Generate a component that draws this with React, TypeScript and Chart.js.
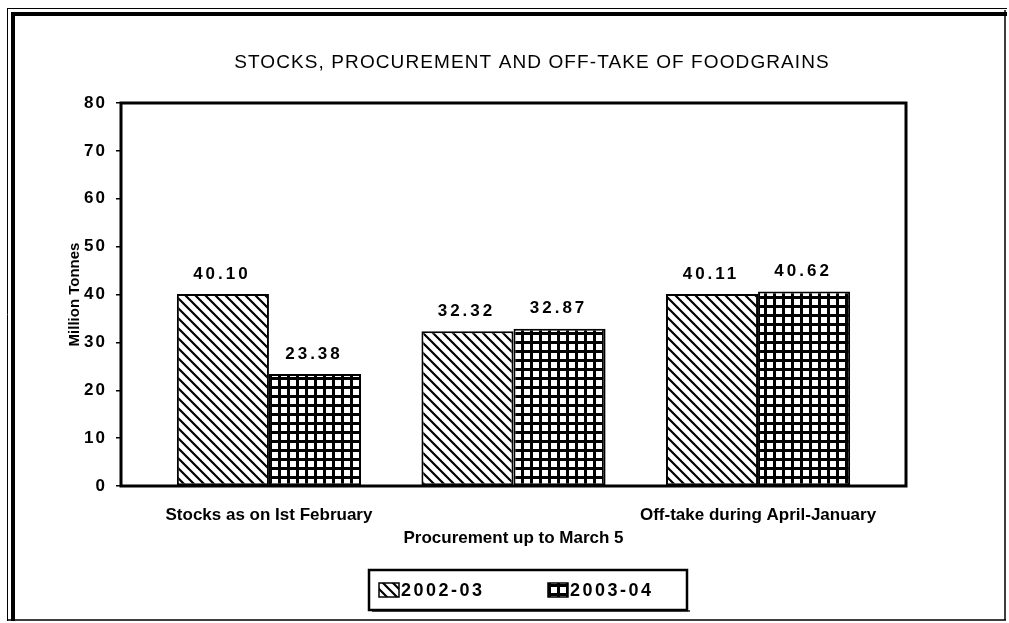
import React, { useEffect, useRef } from 'react';
import { Chart, registerables } from 'chart.js';

Chart.register(...registerables);

const categories = ['Stocks as on Ist February', 'Procurement up to March 5', 'Off-take during April-January'];
const seriesLabels = ['2002-03', '2003-04'];
const values2002 = [40.1, 32.32, 40.11];
const values2003 = [23.38, 32.87, 40.62];
const yMin = 0;
const yMax = 80;
const yStep = 10;
const titleText = 'STOCKS, PROCUREMENT AND OFF-TAKE OF FOODGRAINS';
const yTitle = 'Million Tonnes';

const FAMILY = "'Liberation Sans', Arial, Helvetica, sans-serif";

function makeDiagonal(): CanvasPattern {
  const c = document.createElement('canvas');
  c.width = 10;
  c.height = 10;
  const g = c.getContext('2d')!;
  g.fillStyle = '#fff';
  g.fillRect(0, 0, 10, 10);
  g.strokeStyle = '#000';
  g.lineWidth = 2.2;
  g.beginPath();
  g.moveTo(-5, -5); g.lineTo(15, 15);
  g.moveTo(-5, 5); g.lineTo(5, 15);
  g.moveTo(5, -5); g.lineTo(15, 5);
  g.stroke();
  return g.createPattern(c, 'repeat')!;
}

function makeGrid(): CanvasPattern {
  const c = document.createElement('canvas');
  c.width = 9;
  c.height = 9;
  const g = c.getContext('2d')!;
  g.fillStyle = '#000';
  g.fillRect(0, 0, 9, 9);
  g.fillStyle = '#fff';
  g.fillRect(2, 2, 6, 6);
  return g.createPattern(c, 'repeat')!;
}

export default function App() {
  const ref = useRef<HTMLCanvasElement | null>(null);

  useEffect(() => {
    if (!ref.current) return;
    const diag = makeDiagonal();
    const grid = makeGrid();
    const patterns = [diag, grid];

    const decor = {
      id: 'decor',
      beforeDraw(chart: any) {
        const ctx = chart.ctx as CanvasRenderingContext2D;
        ctx.save();
        ctx.fillStyle = '#fff';
        ctx.fillRect(0, 0, chart.width, chart.height);
        ctx.strokeStyle = '#000';
        ctx.lineWidth = 1;
        ctx.beginPath();
        ctx.moveTo(7, 8.5); ctx.lineTo(1007, 8.5);
        ctx.moveTo(7.5, 8); ctx.lineTo(7.5, 621);
        ctx.stroke();
        ctx.lineWidth = 4;
        ctx.beginPath();
        ctx.moveTo(11, 14); ctx.lineTo(1007, 14);
        ctx.moveTo(13, 12); ctx.lineTo(13, 621);
        ctx.stroke();
        ctx.lineWidth = 1.5;
        ctx.beginPath();
        ctx.moveTo(1005, 10); ctx.lineTo(1005, 620);
        ctx.moveTo(7, 620); ctx.lineTo(1006, 620);
        ctx.stroke();
        ctx.restore();
      },
      afterDatasetsDraw(chart: any) {
        const ctx = chart.ctx as CanvasRenderingContext2D;
        ctx.save();
        ctx.fillStyle = '#000';
        ctx.font = `bold 17px ${FAMILY}`;
        (ctx as any).letterSpacing = '3px';
        ctx.textAlign = 'center';
        ctx.textBaseline = 'middle';
        chart.data.datasets.forEach((ds: any, di: number) => {
          const meta = chart.getDatasetMeta(di);
          meta.data.forEach((el: any, i: number) => {
            const v = ds.data[i].y as number;
            ctx.fillText(v.toFixed(2), el.x - 1, el.y - 20);
          });
        });
        ctx.restore();
        (ctx as any).letterSpacing = '2px';
      },
      afterDraw(chart: any) {
        const ctx = chart.ctx as CanvasRenderingContext2D;
        (ctx as any).letterSpacing = '0px';
        const a = chart.chartArea;
        ctx.save();
        ctx.strokeStyle = '#000';
        ctx.lineWidth = 3;
        ctx.strokeRect(a.left, a.top, a.right - a.left, a.bottom - a.top);
        ctx.fillStyle = '#000';
        ctx.font = `normal 19px ${FAMILY}`;
        (ctx as any).letterSpacing = '1.1px';
        ctx.textAlign = 'center';
        ctx.textBaseline = 'middle';
        ctx.fillText(titleText, 532, 63);
        (ctx as any).letterSpacing = '0px';
        ctx.fillStyle = '#555';
        ctx.fillRect(372, 610, 318, 2);
        ctx.lineWidth = 2.5;
        ctx.strokeStyle = '#000';
        ctx.strokeRect(369, 570, 318, 40);
        const itemX = [379, 548];
        chart.data.datasets.forEach((ds: any, di: number) => {
          const x = itemX[di];
          ctx.fillStyle = ds.backgroundColor;
          ctx.fillRect(x, 583, 20, 14);
          ctx.lineWidth = 1.5;
          ctx.strokeStyle = '#000';
          ctx.strokeRect(x, 583, 20, 14);
          ctx.fillStyle = '#000';
          ctx.font = `bold 18px ${FAMILY}`;
          (ctx as any).letterSpacing = '2.5px';
          ctx.textAlign = 'left';
          ctx.textBaseline = 'middle';
          ctx.fillText(ds.label, x + 22, 591);
          (ctx as any).letterSpacing = '0px';
        });
        ctx.restore();
      },
    };

    const chart = new Chart(ref.current, {
      type: 'bar',
      data: {
        datasets: [
          {
            label: seriesLabels[0],
            data: values2002.map((v, i) => ({ x: i, y: v })),
            backgroundColor: patterns[0] as any,
            borderColor: '#000',
            borderWidth: 2,
            borderSkipped: false,
            barPercentage: 1,
            categoryPercentage: 0.753,
          },
          {
            label: seriesLabels[1],
            data: values2003.map((v, i) => ({ x: i, y: v })),
            backgroundColor: patterns[1] as any,
            borderColor: '#000',
            borderWidth: 2,
            borderSkipped: false,
            barPercentage: 1,
            categoryPercentage: 0.753,
          },
        ],
      },
      options: {
        responsive: false,
        animation: false,
        layout: { padding: { left: 0, right: 103, top: 103, bottom: 0 } },
        plugins: {
          legend: { display: false },
          title: { display: false },
          tooltip: { enabled: false },
        },
        scales: {
          x: {
            type: 'linear',
            offset: false,
            min: -0.605,
            max: 2.605,
            afterBuildTicks: (s: any) => {
              s.ticks = categories.map((_, i) => ({ value: i }));
            },
            afterFit: (s: any) => {
              s.height = 137;
            },
            grid: { display: false, drawTicks: false, offset: false },
            border: { display: false },
            ticks: {
              autoSkip: false,
              maxRotation: 0,
              minRotation: 0,
              padding: 18,
              color: '#000',
              font: { family: FAMILY, size: 17, weight: 'bold', lineHeight: 1.35 },
              callback: (v: any) => {
                const i = Math.round(Number(v));
                return i === 1 ? ['', categories[1]] : categories[i];
              },
            },
          },
          y: {
            min: yMin,
            max: yMax,
            afterFit: (s: any) => {
              s.width = 121;
            },
            border: { display: false },
            grid: { drawOnChartArea: false, tickLength: 5, color: '#000', lineWidth: 1.5 },
            ticks: {
              stepSize: yStep,
              z: 1,
              padding: 9,
              color: '#000',
              font: { family: FAMILY, size: 17, weight: 'bold' },
            },
            title: {
              display: true,
              text: yTitle,
              color: '#000',
              padding: { top: 66, bottom: 0 },
              font: { family: FAMILY, size: 15, weight: 'bold' },
            },
          },
        },
      } as any,
      plugins: [decor],
    });

    return () => chart.destroy();
  }, []);

  return (
    <div style={{ position: 'fixed', left: 0, top: 0, width: 1009, height: 623, background: '#fff' }}>
      <canvas ref={ref} width={1009} height={623} style={{ width: 1009, height: 623, display: 'block' }} />
    </div>
  );
}
